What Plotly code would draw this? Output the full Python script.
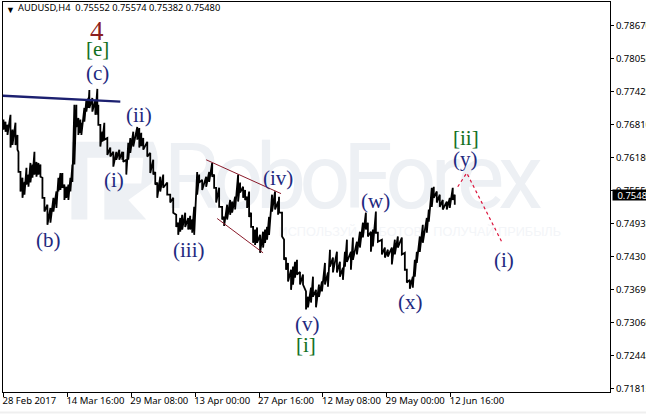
import plotly.graph_objects as go

# bar number along the time axis, with the highs and lows
bar_no = [
    0, 2, 4, 7, 9, 12, 14, 15, 17, 19,
    21, 23, 25, 27, 29, 31, 33, 35, 37, 39,
    41, 44, 47, 50, 53, 55, 57, 59, 61, 63,
    65, 67, 69, 71, 73, 75, 77, 78, 81, 83,
    85, 86, 89, 92, 94, 95, 97, 99, 101, 104,
    107, 110, 113, 116, 119, 120, 123, 125, 127, 130,
    134, 136, 138, 140, 144, 147, 150, 152, 154, 157,
    160, 164, 167, 170, 173, 175, 177, 179, 182, 185,
    187, 189, 191, 194, 196, 199, 203, 206, 209, 211,
    213, 216, 219, 221, 224, 227, 229, 232, 235, 237,
    240, 242, 244, 246, 248, 250, 252, 254, 257, 260,
    262, 264, 266, 269, 272, 275, 276, 279, 281, 283,
    285, 288, 290, 292, 294, 297, 300, 303, 305, 308,
    310, 313, 316, 319, 322, 325, 327, 330, 334, 337,
    340, 342, 344, 348, 350, 354, 357, 360, 363, 365,
    368, 370, 373, 375, 379, 382, 385, 389, 392, 395,
    399, 402, 404, 407, 410, 412, 414, 417, 420, 424,
    426, 429, 431, 434, 437, 440, 444, 447, 450, 452,
]
bar_high = [
    .7690, .7686, .7680, .7699, .7671, .7684, .7661, .7629, .7591, .7580,
    .7572, .7599, .7586, .7608, .7605, .7629, .7610, .7608, .7605, .7580,
    .7542, .7529, .7523, .7542, .7554, .7580, .7589, .7589, .7567, .7563,
    .7567, .7580, .7605, .7718, .7718, .7693, .7690, .7684, .7712, .7727,
    .7731, .7746, .7731, .7727, .7748, .7718, .7680, .7667, .7684, .7655,
    .7637, .7629, .7629, .7633, .7629, .7629, .7614, .7646, .7655, .7667,
    .7676, .7674, .7665, .7655, .7648, .7627, .7614, .7591, .7571, .7582,
    .7586, .7571, .7548, .7542, .7510, .7495, .7504, .7510, .7514, .7504,
    .7508, .7501, .7525, .7591, .7586, .7576, .7582, .7591, .7608, .7586,
    .7561, .7561, .7525, .7506, .7529, .7538, .7535, .7544, .7586, .7571,
    .7563, .7557, .7544, .7554, .7514, .7487, .7482, .7486, .7472, .7478,
    .7482, .7487, .7506, .7548, .7554, .7535, .7544, .7514, .7463, .7429,
    .7419, .7406, .7412, .7421, .7425, .7402, .7397, .7365, .7355, .7372,
    .7393, .7368, .7378, .7384, .7419, .7401, .7444, .7429, .7440, .7421,
    .7410, .7440, .7463, .7440, .7467, .7459, .7478, .7495, .7514, .7495,
    .7478, .7482, .7516, .7476, .7463, .7448, .7444, .7448, .7463, .7469,
    .7467, .7438, .7406, .7387, .7393, .7425, .7440, .7469, .7491, .7504,
    .7520, .7561, .7563, .7554, .7548, .7538, .7535, .7542, .7561, .7548,
]
bar_low = [
    .7671, .7667, .7661, .7637, .7642, .7642, .7633, .7591, .7554, .7542,
    .7548, .7567, .7563, .7571, .7580, .7586, .7582, .7586, .7582, .7542,
    .7516, .7491, .7495, .7516, .7523, .7554, .7557, .7561, .7538, .7542,
    .7538, .7554, .7572, .7605, .7676, .7661, .7665, .7661, .7686, .7705,
    .7712, .7712, .7705, .7699, .7699, .7680, .7639, .7648, .7652, .7623,
    .7620, .7601, .7614, .7614, .7614, .7610, .7586, .7614, .7627, .7639,
    .7652, .7637, .7640, .7633, .7620, .7589, .7586, .7567, .7542, .7554,
    .7561, .7548, .7533, .7514, .7487, .7472, .7478, .7482, .7487, .7482,
    .7482, .7476, .7472, .7548, .7571, .7557, .7563, .7572, .7582, .7561,
    .7533, .7525, .7501, .7489, .7501, .7510, .7514, .7520, .7535, .7552,
    .7542, .7538, .7523, .7506, .7487, .7457, .7453, .7457, .7438, .7448,
    .7457, .7463, .7472, .7516, .7520, .7510, .7514, .7469, .7425, .7406,
    .7384, .7368, .7378, .7391, .7397, .7378, .7378, .7331, .7335, .7344,
    .7355, .7335, .7355, .7365, .7378, .7374, .7412, .7401, .7401, .7393,
    .7387, .7412, .7421, .7406, .7425, .7435, .7448, .7467, .7482, .7469,
    .7440, .7450, .7476, .7459, .7435, .7429, .7431, .7416, .7435, .7448,
    .7435, .7406, .7382, .7370, .7372, .7393, .7419, .7440, .7457, .7476,
    .7497, .7525, .7542, .7533, .7525, .7520, .7520, .7523, .7538, .7529,
]

wave_labels = ["4", "[e]", "(c)", "(ii)", "(i)", "(b)", "(iii)", "(iv)", "(v)", "[i]", "(w)", "(x)", "[ii]", "(y)", "(i)"]
wave_bars = [94, 94, 94, 136, 111, 45, 186, 275, 304, 303, 373, 408, 463, 463, 501]
wave_prices = [.7858, .7824, .7778, .7699, .7576, .7463, .7444, .7580, .7304, .7263, .7536, .7346, .7655, .7615, .7425]
wave_colors = ["#8b2020", "#12701e", "#1f2a80", "#1f2a80", "#1f2a80", "#1f2a80", "#1f2a80", "#1f2a80", "#1f2a80", "#12701e", "#1f2a80", "#1f2a80", "#12701e", "#1f2a80", "#1f2a80"]

price_ticks = [.78670, .78055, .77425, .76810, .76180, .75550, .74935, .74305, .73690, .73060, .72445, .71815]
time_ticks = [0, 64, 128, 192, 256, 320, 384, 448]
time_labels = ["28 Feb 2017", "14 Mar 16:00", "29 Mar 08:00", "13 Apr 00:00", "27 Apr 16:00", "12 May 08:00", "29 May 00:00", "12 Jun 16:00"]

brand_letters = ["R", "o", "b", "o", "F", "o", "r", "e", "x"]
brand_bars = [188, 235, 278, 322, 365, 408, 443, 478, 518]

font_ui = "Noto Sans"
pale = "#edf0f4"

# high to low on every bar, so the bars join up into one ragged line
path_x = []
path_y = []
for n, hi, lo in zip(bar_no, bar_high, bar_low):
    path_x += [n, n]
    path_y += [hi, lo]

fig = go.Figure()

# watermark has to be a trace so the price line stays on top of it
fig.add_trace(go.Scatter(x=brand_bars, y=[.7565] * len(brand_bars), mode="text", text=brand_letters,
                         textfont=dict(family="Roboto", size=90, color=pale)))
fig.add_trace(go.Scatter(x=[417], y=[.7475], mode="text", text=["ИСПОЛЬЗУЙ РОБОТОВ - ПОЛУЧАЙ ПРИБЫЛЬ"],
                         textfont=dict(family="Liberation Sans", size=12.7, color="#f3f5f8")))

# price
fig.add_trace(go.Scatter(x=path_x, y=path_y, mode="lines", line=dict(color="black", width=1.8)))

# trend lines
fig.add_trace(go.Scatter(x=[-1, 117], y=[.7735, .7724], mode="lines", line=dict(color="#1c2070", width=2.4)))
fig.add_trace(go.Scatter(x=[203, 278], y=[.7614, .7550], mode="lines", line=dict(color="#8b1a2a", width=1)))
fig.add_trace(go.Scatter(x=[214, 260], y=[.7503, .7438], mode="lines", line=dict(color="#8b1a2a", width=1)))
fig.add_trace(go.Scatter(x=[455, 464, 499], y=[.7563, .7589, .7459], mode="lines",
                         line=dict(color="#dc143c", width=1.2, dash="3px,3px")))

# logo behind the chart
fig.add_shape(type="path", layer="below", line_width=0, fillcolor=pale,
              path="M 68 .7648 L 150 .7648 Q 160 .7610 148 .7569 L 125 .7538 L 143 .7501 L 101 .7501 "
                   "L 101 .7569 L 138 .7569 L 140 .7618 L 84 .7618 L 84 .7501 L 68 .7501 Z")

for label, n, p, c in zip(wave_labels, wave_bars, wave_prices, wave_colors):
    fig.add_annotation(x=n, y=p, text=label, showarrow=False,
                       font=dict(family="Liberation Serif", size=27 if label == "4" else 21, color=c))

# chart header
fig.add_annotation(xref="paper", yref="paper", x=0.002, y=1.002, yanchor="top", xanchor="left", showarrow=False,
                   text="▼", font=dict(family=font_ui, size=9, color="black"))
fig.add_annotation(xref="paper", yref="paper", x=0.022, y=1.008, yanchor="top", xanchor="left", showarrow=False,
                   text="AUDUSD,H4  0.75552 0.75574 0.75382 0.75480", font=dict(family=font_ui, size=9.3, color="black"))

# current price tag
fig.add_annotation(xref="paper", y=.75480, x=1.0025, xanchor="left", showarrow=False, text="0.75480",
                   bgcolor="black", width=44, height=10, align="center", borderpad=0,
                   font=dict(family=font_ui, size=9.5, color="white"))

# grey strip along the window's bottom edge
fig.add_shape(type="rect", xref="paper", yref="paper", x0=-0.01, x1=1.06, y0=-0.0552, y1=-0.05, line_width=0, fillcolor="#efefef")

fig.update_layout(
    width=646, height=414,
    margin=dict(l=2.5, r=35.5, t=2, b=21.5),
    paper_bgcolor="white", plot_bgcolor="white",
    showlegend=False,
    font=dict(family=font_ui, size=9.5, color="black"),
    xaxis=dict(range=[-0.5, 607.5], tickvals=time_ticks, ticktext=time_labels, showgrid=False, zeroline=False,
               showline=True, linecolor="black", linewidth=1, mirror=True, ticks="outside", ticklen=4,
               tickcolor="black", ticklabelposition="outside right", ticklabelshift=-2, tickangle=0, automargin=False),
    yaxis=dict(range=[.71749, .79123], side="right", tickvals=price_ticks, tickformat=".5f", showgrid=False,
               zeroline=False, showline=True, linecolor="black", linewidth=1, mirror=True, ticks="outside",
               ticklen=3, tickcolor="black", automargin=False),
)

fig.write_html("out.html", config={"displayModeBar": False}, post_script="document.body.style.margin='0';")
